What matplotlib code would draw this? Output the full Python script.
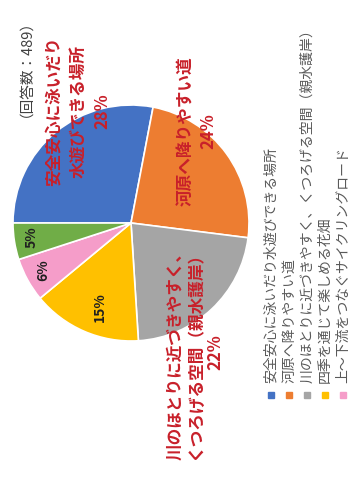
import matplotlib.pyplot as plt

plt.rcParams['font.family'] = ['Noto Sans CJK JP', 'DejaVu Sans']

# data
categories = ['安全安心に泳いだり水遊びできる場所',
              '河原へ降りやすい道',
              '川のほとりに近づきやすく、くつろげる空間（親水護岸）',
              '四季を通じて楽しめる花畑',
              '上〜下流をつなぐサイクリングロード']
shares = [28, 24, 22, 15, 6, 5]
colors = ['#4472C4', '#ED7D31', '#A5A5A5', '#FFC000', '#F59DC9', '#70AD47']
label_names = ['安全安心に泳いだり\n水遊びできる場所',
               '河原へ降りやすい道',
               '川のほとりに近づきやすく、\nくつろげる空間（親水護岸）',
               None, None, None]
title = '（回答数：489）'

# layout (image pixel coords, y down)
W, H = 352, 482
label_pos = [(78, 111), (197, 131), (195, 352), (100, 307), (43, 270), (32, 237)]
label_spacing = [1.45, 1.3, 1.15]
legend_x = [271, 289, 307, 325, 343]
legend_y = 395
red = '#C8202A'

def py(y):
    return H - y

fig = plt.figure(figsize=(W/100, H/100), dpi=100)
ax = fig.add_axes([0, 0, 1, 1])

wedges, _ = ax.pie(shares, colors=colors, startangle=180, counterclock=False,
                   center=(131, py(223)), radius=118, frame=True,
                   wedgeprops=dict(edgecolor='white', linewidth=1.2))
ax.set_xlim(0, W)
ax.set_ylim(0, H)
ax.set_aspect('equal')
ax.axis('off')

for cont1, s in enumerate(shares):
    x, y = label_pos[cont1]
    if label_names[cont1] is not None:
        ax.text(x, py(y), label_names[cont1] + '\n' + f'{s}%', rotation=90,
                ha='center', va='center', multialignment='center',
                color=red, fontsize=12, fontweight='bold',
                linespacing=label_spacing[cont1])
    else:
        ax.text(x, py(y), f'{s}%', rotation=90, ha='center', va='center',
                color='#202020', fontsize=10, fontweight='bold')
# end for

ax.text(18, py(5), title, rotation=90, ha='center', va='top',
        color='#404040', fontsize=10.5)

for cont1, name in enumerate(categories):
    ax.plot(legend_x[cont1], py(legend_y), 's', ms=4, color=colors[cont1])
    ax.text(legend_x[cont1], py(legend_y - 12), name, rotation=90,
            ha='center', va='bottom', color='#595959', fontsize=10)
# end for

fig.savefig('out.png', dpi=100)
plt.close(fig)
